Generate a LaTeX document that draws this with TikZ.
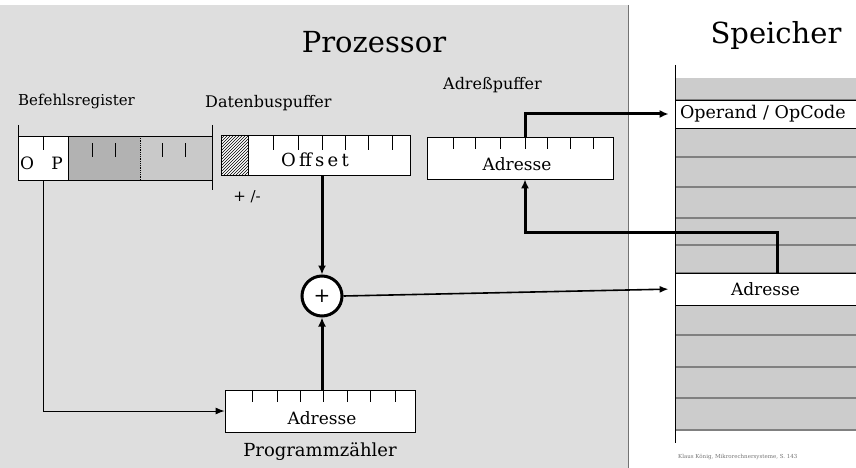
\documentclass[tikz,border=0pt]{standalone}
\usepackage{fontspec}
\setmainfont{DejaVu Serif}
\usepackage{tikz}
\usetikzlibrary{
    arrows.meta,
    calc,
    patterns,
    positioning
}
\tikzset{
    regbox/.style   = {rectangle, draw=black, thick, inner sep=0pt},
    reglabel/.style = {anchor=base west, inner sep=0pt,
                       font=\fontsize{16}{16}\selectfont},
    valtext/.style  = {inner sep=0pt, font=\fontsize{17}{17}\selectfont},
    memrow/.style   = {rectangle, draw=black, fill=white, thick,
                       minimum width=181pt, inner sep=0pt},
    regtick/.style  = {line width=0.9pt},
    bus/.style      = {-{Latex[length=9pt,width=8pt]}, line width=3pt},
    wire/.style     = {-{Latex[length=9pt,width=7pt]}, line width=1.6pt}
}

\begin{document}
\begin{tikzpicture}[x=1pt, y=-1pt]
\useasboundingbox (0,0) rectangle (856,468);

% --- Processor / memory backgrounds ---
\fill[black!13] (0,5) rectangle (628,468);
\draw[black!55, line width=1pt] (628,5) -- (628,468);
\fill[black!20] (675,78) rectangle (856,430);
\foreach \y in {100,128,157,187,218,245,273,305,335,367,398,430}
   \draw[black!50, line width=1.6pt] (675,\y) -- (856,\y);
\draw[line width=1pt] (675,65) -- (675,443);

% --- Titles ---
\node[font=\fontsize{29}{29}\selectfont] (proz)   at (374,42) {Prozessor};
\node[font=\fontsize{29}{29}\selectfont] (speich) at (776,36) {Speicher};

% --- Befehlsregister ---
\fill[white]    (18,136) rectangle (68,180);
\fill[black!30] (68,136) rectangle (140,180);
\fill[black!21] (140,136) rectangle (212,180);
\node[regbox, minimum width=194pt, minimum height=44pt] (befreg) at (115,158) {};
\draw[thick] (68,136) -- (68,180);
\draw[thick, densely dotted] (140,136) -- (140,180);
\draw[regtick] (43,136) -- (43,150);
\foreach \x in {92,115,162,185}
   \draw[regtick] (\x,143) -- (\x,157);
\draw[thick] (18,125) -- (18,136) (212,125) -- (212,136) (212,180) -- (212,190);
\node[valtext] (opo) at (27,163) {O};
\node[valtext] (opp) at (57,163) {P};
\coordinate (opbit) at (43,180);
\node[reglabel, font=\fontsize{15}{15}\selectfont] (befl) at (18,106) {Befehlsregister};

% --- Datenbuspuffer ---
\node[regbox, fill=white, minimum width=189pt, minimum height=40pt] (datbuf) at (315.5,155) {};
\fill[pattern=north east lines] (221,135) rectangle (248,175);
\draw[thick] (248,135) -- (248,175);
\foreach \x in {273,298,322,345,368,392}
   \draw[regtick] (\x,135) -- (\x,150);
\node[valtext, font=\fontsize{18}{18}\selectfont\addfontfeature{LetterSpace=18}] (offval) at (315,160) {Offset};
\node[valtext, font=\fontsize{15}{15}\selectfont] (pm) at (247,197) {+ /-};
\node[reglabel] (datl) at (205,108) {Datenbuspuffer};

% --- Adresspuffer ---
\node[regbox, fill=white, minimum width=186pt, minimum height=42pt] (adrbuf) at (520,158) {};
\foreach \x in {453,475,500,525,547,570,593}
   \draw[regtick] (\x,137) -- (\x,149);
\node[valtext] (adrval) at (517,164) {Adresse};
\node[reglabel] (adrl) at (443,90) {Adreßpuffer};

% --- Addierer ---
\node[circle, draw, fill=white, line width=3pt, minimum size=40pt, inner sep=0pt,
      font=\fontsize{20}{20}\selectfont] (add) at (322,296) {+};

% --- Programmzaehler ---
\node[regbox, fill=white, minimum width=190pt, minimum height=42pt] (pc) at (320,411) {};
\foreach \x in {252,277,300,323,347,370,395}
   \draw[regtick] (\x,390) -- (\x,402);
\node[valtext] (pcval) at (322,418) {Adresse};
\node[anchor=base, inner sep=0pt, font=\fontsize{18}{18}\selectfont] (pcl) at (320,456) {Programmzähler};

% --- Speicher rows ---
\node[memrow, minimum height=28pt, text width=171pt, align=left,
      font=\fontsize{17.5}{17.5}\selectfont] (memop) at (765.5,114) {Operand / OpCode};
\node[memrow, minimum height=32pt, font=\fontsize{17}{17}\selectfont] (memadr) at (765.5,289) {Adresse};
\node[anchor=west, inner sep=0pt, text=black!55, font=\fontsize{5.5}{6}\selectfont] (quelle)
   at (678,457) {Klaus König, Mikrorechnersysteme, S. 143};

% --- Datenwege ---
\draw[bus, shorten >=6pt] ([xshift=5pt]adrbuf.north) |- (memop.west);
\draw[bus] ([xshift=11.5pt]memadr.north) -- ++(0,-40) -| ([xshift=5pt]adrbuf.south);
\draw[bus] (datbuf.south -| add) -- (add.north);
\draw[bus] (pc.north -| add) -- (add.south);
\draw[wire, shorten >=6pt] (add.east) -- (memadr.west);
\draw[wire, line width=1pt] (opbit) |- (pc.west);

\end{tikzpicture}
\end{document}
